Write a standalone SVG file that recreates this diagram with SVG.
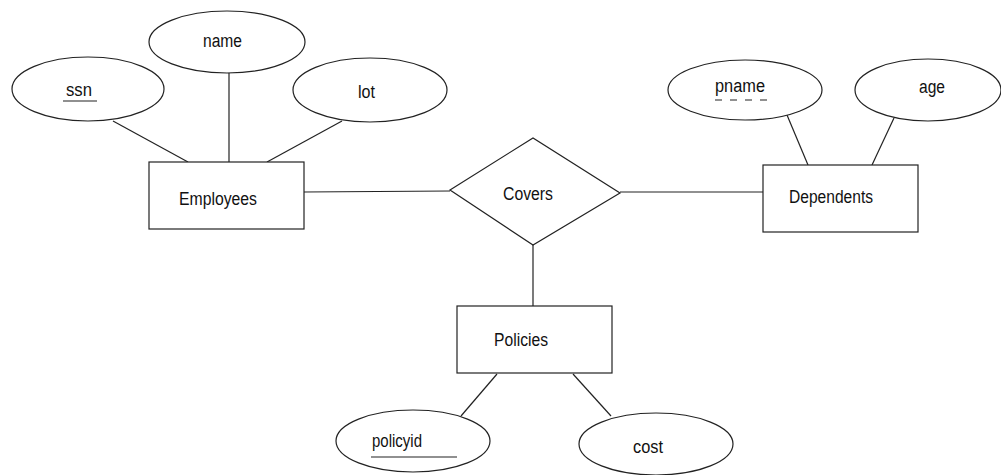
<svg xmlns="http://www.w3.org/2000/svg" width="1001" height="475" viewBox="0 0 1001 475">
<style>
.s{fill:#fff;stroke:#222;stroke-width:1.2}
.l{stroke:#222;stroke-width:1.2;fill:none}
text{font-family:"Liberation Sans",Arial,sans-serif;font-size:18px;fill:#111;text-anchor:middle}
</style>
<rect width="1001" height="475" fill="#fff"/>
<g id="connectors">
<line class="l" x1="113" y1="121" x2="188" y2="162"/>
<line class="l" x1="229" y1="73" x2="229" y2="162"/>
<line class="l" x1="342" y1="121" x2="267" y2="162"/>
<line class="l" x1="304" y1="192" x2="450" y2="191"/>
<line class="l" x1="620" y1="192" x2="763" y2="192"/>
<line class="l" x1="533" y1="245" x2="533" y2="306"/>
<line class="l" x1="787" y1="115" x2="808" y2="165"/>
<line class="l" x1="894" y1="118" x2="872" y2="165"/>
<line class="l" x1="497" y1="374" x2="461" y2="416"/>
<line class="l" x1="573" y1="374" x2="611" y2="416"/>
</g>
<g id="ssn"><ellipse class="s" cx="88" cy="89" rx="76" ry="32"/><text x="79" y="96" textLength="26" lengthAdjust="spacingAndGlyphs">ssn</text><line class="l" x1="63" y1="101" x2="97" y2="101"/></g>
<g id="name"><ellipse class="s" cx="227" cy="42" rx="78" ry="31"/><text x="222.5" y="47" textLength="39" lengthAdjust="spacingAndGlyphs">name</text></g>
<g id="lot"><ellipse class="s" cx="370" cy="90" rx="77" ry="32"/><text x="366.5" y="98" textLength="17" lengthAdjust="spacingAndGlyphs">lot</text></g>
<g id="employees"><rect class="s" x="149" y="162" width="155" height="67"/><text x="218" y="205" textLength="78" lengthAdjust="spacingAndGlyphs">Employees</text></g>
<g id="covers"><polygon class="s" points="450,190 533,138 620,193 533,245"/><text x="528" y="200" textLength="50" lengthAdjust="spacingAndGlyphs">Covers</text></g>
<g id="dependents"><rect class="s" x="763" y="165" width="155" height="67"/><text x="831" y="203" textLength="84" lengthAdjust="spacingAndGlyphs">Dependents</text></g>
<g id="pname"><ellipse class="s" cx="745" cy="90" rx="77" ry="30"/><text x="740" y="92" textLength="50" lengthAdjust="spacingAndGlyphs">pname</text><line class="l" x1="715" y1="100" x2="767" y2="100" stroke-dasharray="7,8"/></g>
<g id="age"><ellipse class="s" cx="928" cy="90" rx="73" ry="31"/><text x="932" y="93" textLength="26" lengthAdjust="spacingAndGlyphs">age</text></g>
<g id="policies"><rect class="s" x="457" y="306" width="155" height="67"/><text x="521" y="346" textLength="54" lengthAdjust="spacingAndGlyphs">Policies</text></g>
<g id="policyid"><ellipse class="s" cx="413" cy="441" rx="77" ry="31"/><text x="397" y="447" textLength="50" lengthAdjust="spacingAndGlyphs">policyid</text><line class="l" x1="371" y1="457" x2="457" y2="457"/></g>
<g id="cost"><ellipse class="s" cx="656" cy="444" rx="77" ry="31"/><text x="648" y="453" textLength="30" lengthAdjust="spacingAndGlyphs">cost</text></g>
</svg>
